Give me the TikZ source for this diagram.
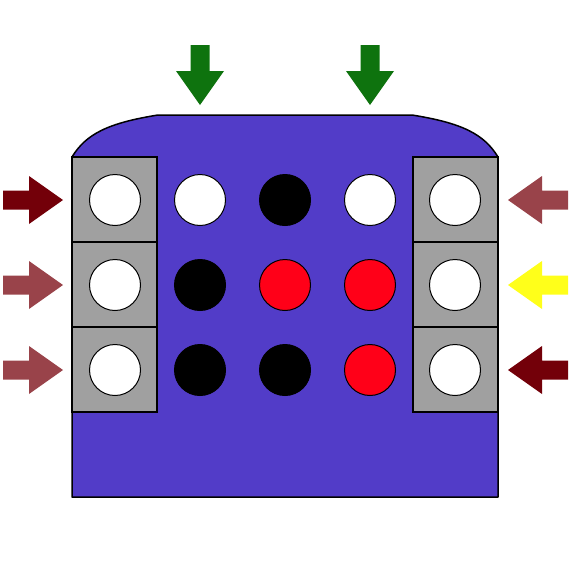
\documentclass[tikz,border=0pt]{standalone}
\usepackage{tikz}
\usetikzlibrary{calc,positioning}
\definecolor{azul}{HTML}{523CC8}
\definecolor{gris}{HTML}{A0A0A0}
\definecolor{rojo}{HTML}{FF0018}
\definecolor{granate}{HTML}{730009}
\definecolor{rosado}{HTML}{99434A}
\definecolor{amarillo}{HTML}{FFFF1A}
\definecolor{verde}{HTML}{0E730E}
\tikzset{
  cuerpo/.style={fill=azul,draw=black,line width=1.5pt,line join=round},
  celda/.style={fill=gris,draw=black,line width=1.5pt},
  bola/.style={circle,draw=black,line width=1pt,minimum size=51pt,inner sep=0pt},
  pics/flecha/.style={code={
    \fill (0,-9.5) -- (26,-9.5) -- (26,-24) -- (60,0) -- (26,24) -- (26,9.5) -- (0,9.5) -- cycle;}}
}

\begin{document}
\begin{tikzpicture}[x=1pt,y=-1pt]
\useasboundingbox (0,0) rectangle (571,571);
% cuerpo azul
\draw[cuerpo] (72,497) -- (72,157) .. controls (86,134) and (108,123) .. (158,115)
 -- (412,115) .. controls (462,123) and (484,134) .. (498,157) -- (498,497) -- cycle;
% celdas grises
\foreach \f in {0,1,2}{
  \draw[celda] (72,157+85*\f) rectangle (157,242+85*\f);
  \draw[celda] (413,157+85*\f) rectangle (498,242+85*\f);
}
% bolas
\foreach \c [count=\i] in {white,white,black,white,white}
  \node[bola,fill=\c] (a\i) at (30+85*\i,200) {};
\foreach \c [count=\i] in {white,black,rojo,rojo,white}
  \node[bola,fill=\c] (b\i) at (30+85*\i,285) {};
\foreach \c [count=\i] in {white,black,black,rojo,white}
  \node[bola,fill=\c] (c\i) at (30+85*\i,370) {};
% flechas
\pic[verde,rotate=-90] at (200,45) {flecha};
\pic[verde,rotate=-90] at (370,45) {flecha};
\pic[granate] at (3,200) {flecha};
\pic[rosado] at (3,285) {flecha};
\pic[rosado] at (3,370) {flecha};
\pic[rosado,rotate=180] at (568,200) {flecha};
\pic[amarillo,rotate=180] at (568,285) {flecha};
\pic[granate,rotate=180] at (568,370) {flecha};
\end{tikzpicture}
\end{document}
